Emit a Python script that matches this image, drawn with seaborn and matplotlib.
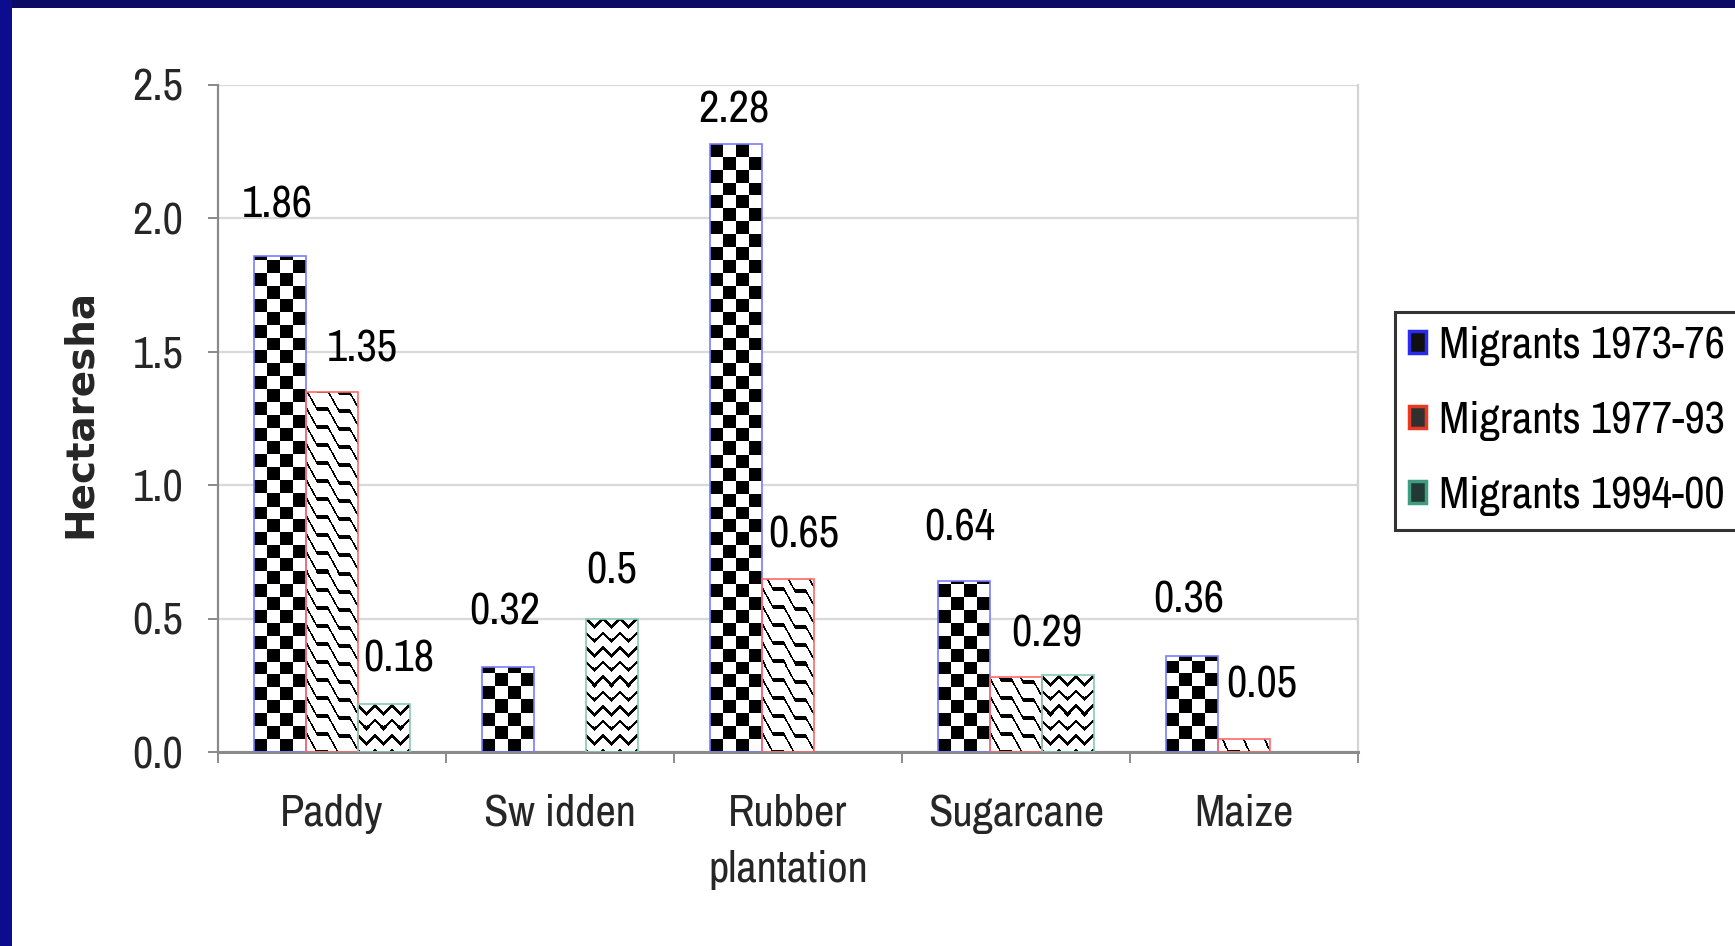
import numpy as np
import pandas as pd
import matplotlib
matplotlib.use("Agg")
import matplotlib.pyplot as plt
from matplotlib.patches import Patch, Rectangle
import seaborn as sns

# ---- data -------------------------------------------------------------
crops = ["Paddy", "Sw idden", "Rubber plantation", "Sugarcane", "Maize"]
crop_labels = ["Paddy", "Sw idden", "Rubber\nplantation", "Sugarcane", "Maize"]
periods = ["Migrants 1973-76", "Migrants 1977-93", "Migrants 1994-00"]

area_1973_76 = [1.86, 0.32, 2.28, 0.64, 0.36]
area_1977_93 = [1.35, 0.00, 0.65, 0.28, 0.05]
area_1994_00 = [0.18, 0.50, 0.00, 0.29, 0.00]

# which bars carry a printed value
shown_1973_76 = [True, True, True, True, True]
shown_1977_93 = [True, False, True, False, True]
shown_1994_00 = [True, True, False, True, False]

y_ticks = [0.0, 0.5, 1.0, 1.5, 2.0, 2.5]

# ---- label placement (pixels: horizontal shift, gap above bar) --------
label_shift = [
    [(-3, 38), (-4, 42), (-2, 21), (-5, 41), (-4, 43)],
    [(30, 30), (0, 0), (16, 31), (0, 0), (18, 41)],
    [(15, 32), (0, 35), (0, 0), (-21, 28), (0, 0)],
]

series = [area_1973_76, area_1977_93, area_1994_00]
shown = [shown_1973_76, shown_1977_93, shown_1994_00]

df = pd.DataFrame({
    "Crop": [c for _ in periods for c in crops],
    "Period": [p for p in periods for _ in crops],
    "Hectares": [v for s in series for v in s],
})

# ---- style ------------------------------------------------------------
sns.set_theme(style="white")
plt.rcParams["font.family"] = ["Archivo Narrow", "Liberation Sans", "DejaVu Sans"]
plt.rcParams["text.color"] = "black"

FS = 32
W_PX, H_PX = 1735, 946
fig = plt.figure(figsize=(W_PX / 100, H_PX / 100), dpi=100)
fig.patch.set_facecolor("white")

# navy frame along the top and left edges
fig.patches.append(Rectangle((0, 1 - 8 / H_PX), 1, 8 / H_PX, transform=fig.transFigure,
                             facecolor="#0b0b66", edgecolor="none", zorder=0))
fig.patches.append(Rectangle((0, 0), 12 / W_PX, 1, transform=fig.transFigure,
                             facecolor="#0c0c8e", edgecolor="none", zorder=0))

ax = fig.add_axes([218 / W_PX, 1 - 752 / H_PX, 1140 / W_PX, 667 / H_PX])

sns.barplot(data=df, x="Crop", y="Hectares", hue="Period", order=crops,
            hue_order=periods, palette={p: "white" for p in periods},
            width=0.68, errorbar=None, legend=False, ax=ax)

ax.set_xlim(-0.5, len(crops) - 0.5)
ax.set_ylim(0, 2.5)

# ---- axes cosmetics ---------------------------------------------------
ax.set_axisbelow(True)
ax.yaxis.grid(True, color="#d9d9d9", linewidth=1.6)
ax.xaxis.grid(False)
ax.spines["top"].set_visible(False)
ax.spines["right"].set_color("#d4d4d4")
ax.spines["right"].set_linewidth(1.6)
ax.spines["left"].set_color("#8a8a8a")
ax.spines["left"].set_linewidth(1.6)
ax.spines["bottom"].set_color("#8a8a8a")
ax.spines["bottom"].set_linewidth(2.2)

ax.set_yticks(y_ticks)
ax.set_yticklabels([f"{t:.1f}" for t in y_ticks])
ax.tick_params(axis="y", which="major", direction="out", length=7, width=1.4,
               color="#8a8a8a", pad=18, labelsize=FS, left=True)

ax.set_xticks(range(len(crops)))
ax.set_xticklabels(crop_labels, linespacing=1.5)
ax.tick_params(axis="x", which="major", length=0, pad=30, labelsize=FS)
ax.set_xticks(np.arange(-0.5, len(crops), 1.0), minor=True)
ax.tick_params(axis="x", which="minor", direction="out", length=8, width=1.4,
               color="#8a8a8a", bottom=True)

ax.set_xlabel("")
ax.set_ylabel("Hectaresha", family=["DejaVu Sans"], fontweight="bold", fontsize=28,
              va="center", ha="center")
ax.yaxis.set_label_coords((80 - 218) / 1140, (752 - 413) / 667)

# ---- pattern fills ----------------------------------------------------
def tri(s):
    return 2 * np.abs(s - np.floor(s + 0.5))


def checker(X, Y, w):
    sq = w / 4.0
    return ((np.floor(X / sq) + np.floor(Y / sq)) % 2) == 0


def shingle(X, Y, w):
    v = (Y + 0.9 * X + 10 * tri(X / 22.0)) % 18.0
    return v < 3.4


def zigzag(X, Y, w):
    v = (Y + 8 * tri(X / 17.0)) % 14.5
    return v < 3.6


patterns = [checker, shingle, zigzag]
edge_colors = ["#7a7aff", "#ff6a6a", "#86c8b4"]

for k, container in enumerate(ax.containers):
    for j, bar in enumerate(container.patches):
        h = bar.get_height()
        if h <= 0:
            bar.set_visible(False)
            continue
        bar.set_facecolor("none")
        bar.set_edgecolor(edge_colors[k])
        bar.set_linewidth(1.2)
        bar.set_zorder(3)
        x0, x1 = bar.get_x(), bar.get_x() + bar.get_width()
        (px0, py0), (px1, py1) = ax.transData.transform([[x0, 0], [x1, h]])
        wpx, hpx = int(round(px1 - px0)), int(round(py1 - py0))
        X, Y = np.meshgrid(np.arange(wpx) + 0.5, np.arange(hpx) + 0.5)
        dark = patterns[k](X, Y, px1 - px0)
        img = np.where(dark, 0.0, 1.0)
        im = ax.imshow(img, cmap="gray", vmin=0, vmax=1, origin="lower",
                       extent=(x0, x1, 0, h), aspect="auto",
                       interpolation="nearest", zorder=2)
        im.set_clip_path(bar)

ax.set_xlim(-0.5, len(crops) - 0.5)
ax.set_ylim(0, 2.5)

# ---- value labels -----------------------------------------------------
for k, container in enumerate(ax.containers):
    for j, bar in enumerate(container.patches):
        if not shown[k][j]:
            continue
        val = series[k][j]
        dx, gap = label_shift[k][j]
        ax.annotate(f"{val:g}", xy=(bar.get_x() + bar.get_width() / 2, val),
                    xytext=(dx * 0.72, gap * 0.72), textcoords="offset points",
                    ha="center", va="baseline", fontsize=FS, zorder=5)

# ---- legend -----------------------------------------------------------
handles = [
    Patch(facecolor="#101010", edgecolor="#2b2bf0", linewidth=2.5),
    Patch(facecolor="#303030", edgecolor="#e83a22", linewidth=2.5),
    Patch(facecolor="#223833", edgecolor="#3f9c80", linewidth=2.5),
]
leg = ax.legend(handles, periods, loc="upper left",
                bbox_to_anchor=(1395 / W_PX, 1 - 312 / H_PX),
                bbox_transform=fig.transFigure, frameon=True, fancybox=False,
                fontsize=FS, handlelength=0.38, handleheight=0.38,
                handletextpad=0.3, labelspacing=0.78, borderpad=0.32,
                borderaxespad=0)
leg.get_frame().set_edgecolor("black")
leg.get_frame().set_linewidth(2.2)
leg.get_frame().set_facecolor("white")

fig.savefig("out.png", dpi=100)
